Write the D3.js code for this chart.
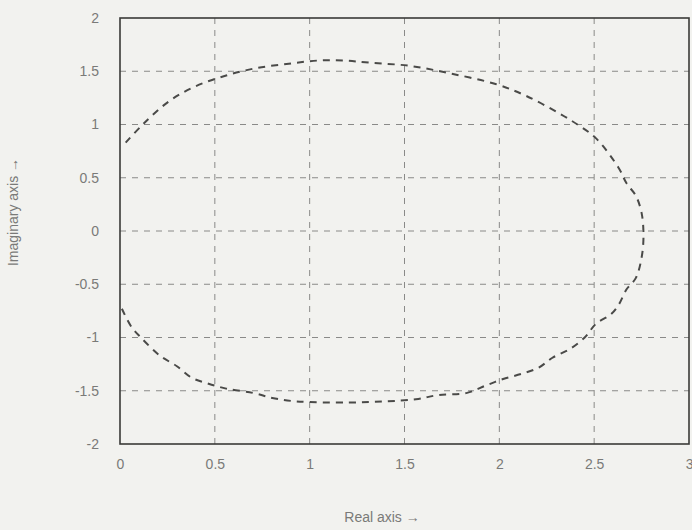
<!DOCTYPE html>
<meta charset="utf-8">
<style>
body { margin: 0; background: #f2f2ef; }
svg { display: block; }
.tick text, .lbl {
  font: 14px "Liberation Sans", Arial, sans-serif;
  fill: #7a7a78;
}
.grid line {
  stroke: #8a8a88;
  stroke-width: 1px;
  stroke-dasharray: 6,6;
}
.curve {
  fill: none;
  stroke: #4a4a48;
  stroke-width: 2px;
  stroke-dasharray: 7,6;
}
</style>
<svg width="692" height="530"></svg>
<script src="https://d3js.org/d3.v7.min.js"></script>
<script>

// tick values
var xTicks = [0, 0.5, 1, 1.5, 2, 2.5, 3];
var yTicks = [2, 1.5, 1, 0.5, 0, -0.5, -1, -1.5, -2];

// curve, going clockwise from the top-left
var re = [0.03, 0.12, 0.26, 0.40, 0.56, 0.72, 0.89, 1.04, 1.18, 1.32, 1.53, 1.74, 1.98, 2.14, 2.32, 2.42, 2.51, 2.63, 2.67, 2.72, 2.75, 2.76,
          2.75, 2.72, 2.67, 2.63, 2.59, 2.51, 2.45, 2.37, 2.28, 2.21, 2.12, 2.02, 1.93, 1.83, 1.68, 1.56, 1.40, 1.20, 0.93, 0.81, 0.70, 0.56, 0.46, 0.38, 0.30, 0.21, 0.11, 0.06, 0.01];
var im = [0.83, 1.00, 1.22, 1.36, 1.46, 1.53, 1.57, 1.60, 1.60, 1.58, 1.55, 1.48, 1.38, 1.27, 1.10, 0.99, 0.87, 0.59, 0.45, 0.33, 0.17, -0.05,
          -0.25, -0.44, -0.55, -0.69, -0.78, -0.87, -1.00, -1.11, -1.19, -1.28, -1.34, -1.39, -1.45, -1.52, -1.54, -1.58, -1.60, -1.61, -1.60, -1.57, -1.52, -1.48, -1.43, -1.38, -1.27, -1.17, -1.00, -0.90, -0.73];

var svg = d3.select("svg"),
    pl = 120, pr = 689, pt = 18, pb = 444;

var x = d3.scaleLinear().domain([0, 3]).range([pl, pr]),
    y = d3.scaleLinear().domain([-2, 2]).range([pb, pt]);

svg.append("clipPath").attr("id", "clip")
  .append("rect")
    .attr("x", pl).attr("y", pt)
    .attr("width", pr - pl).attr("height", pb - pt);

// grid
var grid = svg.append("g").attr("class", "grid");
grid.selectAll(".gx")
  .data(xTicks.slice(1, -1))
  .enter().append("line")
    .attr("x1", function(d) { return x(d); })
    .attr("x2", function(d) { return x(d); })
    .attr("y1", pt).attr("y2", pb);
grid.selectAll(".gy")
  .data(yTicks.slice(1, -1))
  .enter().append("line")
    .attr("y1", function(d) { return y(d); })
    .attr("y2", function(d) { return y(d); })
    .attr("x1", pl).attr("x2", pr);

// axes (labels only, frame drawn below)
var fmt = function(d) { return String(d); };
svg.append("g")
    .attr("transform", "translate(0," + (pb + 12) + ")")
    .call(d3.axisBottom(x).tickValues(xTicks).tickSize(0).tickFormat(fmt));
svg.append("g")
    .attr("transform", "translate(" + (pl - 18) + ",0)")
    .call(d3.axisLeft(y).tickValues(yTicks).tickSize(0).tickFormat(fmt));
svg.selectAll(".domain").remove();
// last x label sits against the right edge
svg.selectAll(".tick text").filter(function(d) { return d === 3; })
    .attr("text-anchor", "end").attr("dx", "4");

// curve
var pts = d3.range(re.length).map(function(i) { return [re[i], im[i]]; });
var line = d3.line()
    .x(function(d) { return x(d[0]); })
    .y(function(d) { return y(d[1]); })
    .curve(d3.curveCatmullRom);

svg.append("path")
    .datum(pts)
    .attr("class", "curve")
    .attr("clip-path", "url(#clip)")
    .attr("d", line);

// frame
svg.append("rect")
    .attr("x", pl).attr("y", pt)
    .attr("width", pr - pl).attr("height", pb - pt)
    .attr("fill", "none")
    .attr("stroke", "#3a3a38")
    .attr("stroke-width", 1.6);

svg.append("text")
    .attr("class", "lbl")
    .attr("x", 382).attr("y", 522)
    .attr("text-anchor", "middle")
    .text("Real axis \u2192");

svg.append("text")
    .attr("class", "lbl")
    .attr("transform", "translate(18,212) rotate(-90)")
    .attr("text-anchor", "middle")
    .text("Imaginary axis \u2192");

</script>
